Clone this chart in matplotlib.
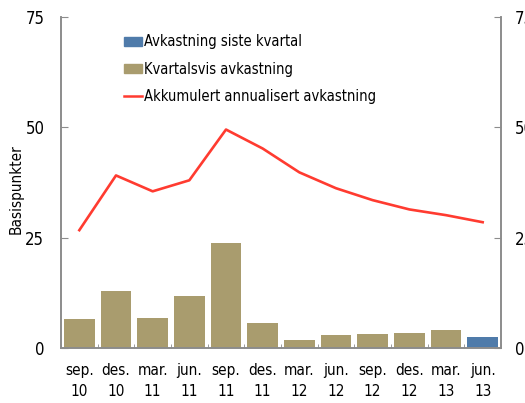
import matplotlib
matplotlib.use("Agg")
import matplotlib.pyplot as plt
from matplotlib.patches import Patch
from matplotlib.lines import Line2D
import numpy as np

plt.rcParams['font.family'] = ['DejaVu Sans']
plt.rcParams['font.stretch'] = 'condensed'

categories = ["sep.\n10", "des.\n10", "mar.\n11", "jun.\n11", "sep.\n11", "des.\n11",
              "mar.\n12", "jun.\n12", "sep.\n12", "des.\n12", "mar.\n13", "jun.\n13"]
kvartalsvis = [6.6, 12.9, 6.8, 11.8, 23.8, 5.7, 1.8, 2.9, 3.1, 3.3, 4.0, 2.5]
akkumulert = [26.7, 39.1, 35.5, 38.0, 49.5, 45.2, 39.8, 36.2, 33.5, 31.4, 30.1, 28.5]
yticks = [0, 25, 50, 75]

tan = '#A99C6E'
blue = '#4F7BAA'
red = '#FF3B30'
grey = '#8C8C8C'

fig = plt.figure(figsize=(5.25, 4.03), dpi=100)
ax = fig.add_axes([61/525, 1-348/403, (501-61)/525, (348-17)/403])

x = np.arange(len(categories))
colors = [tan]*(len(categories)-1) + [blue]
ax.bar(x, kvartalsvis, width=0.84, color=colors, edgecolor='none', zorder=2)
ax.plot(x, akkumulert, color=red, lw=1.9, zorder=3)

ax.set_xlim(-0.5, len(categories)-0.5)
ax.set_ylim(0, 75)
ax.set_yticks(yticks)
ax.set_xticks(x)
ax.set_xticklabels(categories, fontsize=11, linespacing=1.45)
ax.tick_params(axis='x', length=0, pad=11)
ax.set_xticks(np.arange(-0.5, len(categories)), minor=True)
ax.tick_params(axis='x', which='minor', direction='in', length=3, color=grey)
ax.tick_params(axis='y', direction='in', length=5, color=grey, labelsize=12, pad=12)
ax.set_ylabel('Basispunkter', fontsize=11)
ax.yaxis.set_label_coords(-0.085, 0.48)

for s in ['top']:
    ax.spines[s].set_visible(False)
for s in ['left', 'right', 'bottom']:
    ax.spines[s].set_color(grey)
    ax.spines[s].set_linewidth(1.2)

ax2 = ax.twinx()
ax2.set_ylim(0, 75)
ax2.set_yticks(yticks)
ax2.tick_params(axis='y', direction='in', length=5, color=grey, labelsize=12, pad=10)
ax2.spines['top'].set_visible(False)
for s in ['left', 'right', 'bottom']:
    ax2.spines[s].set_color(grey)
    ax2.spines[s].set_linewidth(1.2)

handles = [Patch(color=blue, label='Avkastning siste kvartal'),
           Patch(color=tan, label='Kvartalsvis avkastning'),
           Line2D([], [], color=red, lw=1.8, label='Akkumulert annualisert avkastning')]
ax.legend(handles=handles, loc='upper left', bbox_to_anchor=(0.13, 0.965), frameon=False,
          fontsize=10.5, handlelength=1.2, handleheight=0.6, handletextpad=0.15, labelspacing=0.85,
          borderaxespad=0)

fig.savefig('out.png', dpi=100)
